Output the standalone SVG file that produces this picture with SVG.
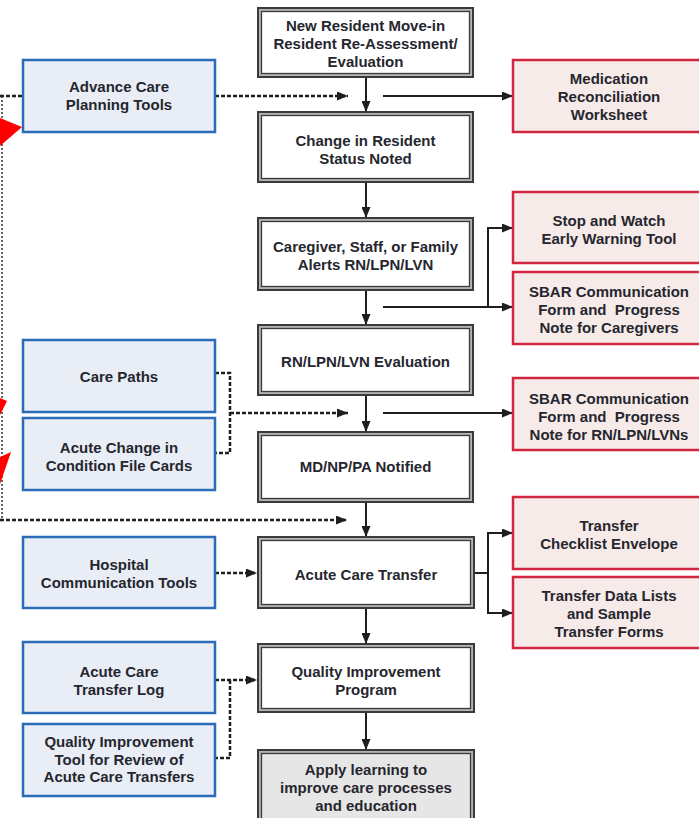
<svg xmlns="http://www.w3.org/2000/svg" width="699" height="818" viewBox="0 0 699 818">
  <style>
    .lbl { font-family: "Liberation Sans", Arial, sans-serif; font-weight: bold; font-size: 15px; fill: #26262f; text-anchor: middle; }
    .outer { fill: #b4b4b4; stroke: #3a3a3a; stroke-width: 2; }
    .inner { fill: #ffffff; stroke: #3a3a3a; stroke-width: 1.3; }
    .inner-gray { fill: #e6e6e6; stroke: #3a3a3a; stroke-width: 1.3; }
    .tool { fill: #e9eef6; stroke: #2b6cb8; stroke-width: 2.5; }
    .form { fill: #f6ebe8; stroke: #d02640; stroke-width: 2.5; }
    .solid { fill: none; stroke: #1e1e1e; stroke-width: 2; }
    .dotted { fill: none; stroke: #1e1e1e; stroke-width: 2.5; stroke-dasharray: 4 2; }
    .fine { fill: none; stroke: #333; stroke-width: 1.5; stroke-dasharray: 2 2; }
    .mark { fill: #ff0000; }
  </style>
  <defs>
    <marker id="arrow" markerUnits="userSpaceOnUse" markerWidth="11" markerHeight="9" refX="11" refY="4.5" orient="auto">
      <path d="M0,0 L11,4.5 L0,9 Z" fill="#1e1e1e"/>
    </marker>
  </defs>

  <rect width="699" height="818" fill="#ffffff"/>

  <!-- connectors -->
  <g id="connectors">
    <!-- main vertical flow -->
    <line class="solid" x1="366" y1="77" x2="366" y2="112" marker-end="url(#arrow)"/>
    <line class="solid" x1="366" y1="182" x2="366" y2="218" marker-end="url(#arrow)"/>
    <line class="solid" x1="366" y1="290" x2="366" y2="325" marker-end="url(#arrow)"/>
    <line class="solid" x1="366" y1="395" x2="366" y2="432" marker-end="url(#arrow)"/>
    <line class="solid" x1="366" y1="502" x2="366" y2="537" marker-end="url(#arrow)"/>
    <line class="solid" x1="366" y1="608" x2="366" y2="644" marker-end="url(#arrow)"/>
    <line class="solid" x1="366" y1="712" x2="366" y2="750" marker-end="url(#arrow)"/>

    <!-- to forms on the right -->
    <line class="solid" x1="383" y1="96" x2="513" y2="96" marker-end="url(#arrow)"/>
    <line class="solid" x1="383" y1="307" x2="513" y2="307" marker-end="url(#arrow)"/>
    <polyline class="solid" points="488,307 488,228 513,228" marker-end="url(#arrow)"/>
    <line class="solid" x1="383" y1="413" x2="513" y2="413" marker-end="url(#arrow)"/>
    <line class="solid" x1="474" y1="573" x2="488" y2="573"/>
    <polyline class="solid" points="488,573 488,533 513,533" marker-end="url(#arrow)"/>
    <polyline class="solid" points="488,573 488,613 513,613" marker-end="url(#arrow)"/>

    <!-- from tools on the left -->
    <line class="dotted" x1="0" y1="96" x2="23" y2="96"/>
    <line class="fine" x1="2" y1="96" x2="2" y2="520"/>
    <line class="dotted" x1="215" y1="96" x2="348" y2="96" marker-end="url(#arrow)"/>
    <polyline class="dotted" points="215,373 230,373 230,453 215,453"/>
    <line class="dotted" x1="230" y1="413" x2="348" y2="413" marker-end="url(#arrow)"/>
    <line class="dotted" x1="0" y1="520" x2="347" y2="520" marker-end="url(#arrow)"/>
    <line class="dotted" x1="215" y1="573" x2="257" y2="573" marker-end="url(#arrow)"/>
    <line class="dotted" x1="215" y1="680" x2="257" y2="680" marker-end="url(#arrow)"/>
    <polyline class="dotted" points="230,680 230,758 215,758"/>
  </g>

  <!-- main process steps -->
  <g id="step-move-in">
    <rect class="outer" x="258" y="8" width="215" height="69"/>
    <rect class="inner" x="261.5" y="11.5" width="208" height="62"/>
    <text class="lbl" x="365.5" y="31">New Resident Move-in</text>
    <text class="lbl" x="365.5" y="49">Resident Re-Assessment/</text>
    <text class="lbl" x="365.5" y="67">Evaluation</text>
  </g>
  <g id="step-change">
    <rect class="outer" x="258" y="112" width="215" height="70"/>
    <rect class="inner" x="261.5" y="115.5" width="208" height="63"/>
    <text class="lbl" x="365.5" y="146">Change in Resident</text>
    <text class="lbl" x="365.5" y="164">Status Noted</text>
  </g>
  <g id="step-alerts">
    <rect class="outer" x="258" y="218" width="215" height="72"/>
    <rect class="inner" x="261.5" y="221.5" width="208" height="65"/>
    <text class="lbl" x="365.5" y="252">Caregiver, Staff, or Family</text>
    <text class="lbl" x="365.5" y="270">Alerts RN/LPN/LVN</text>
  </g>
  <g id="step-evaluation">
    <rect class="outer" x="258" y="325" width="215" height="70"/>
    <rect class="inner" x="261.5" y="328.5" width="208" height="63"/>
    <text class="lbl" x="365.5" y="367">RN/LPN/LVN Evaluation</text>
  </g>
  <g id="step-notified">
    <rect class="outer" x="258" y="432" width="215" height="70"/>
    <rect class="inner" x="261.5" y="435.5" width="208" height="63"/>
    <text class="lbl" x="365.5" y="472">MD/NP/PA Notified</text>
  </g>
  <g id="step-transfer">
    <rect class="outer" x="258" y="537" width="216" height="71"/>
    <rect class="inner" x="261.5" y="540.5" width="209" height="64"/>
    <text class="lbl" x="366" y="580">Acute Care Transfer</text>
  </g>
  <g id="step-qi-program">
    <rect class="outer" x="258" y="644" width="216" height="68"/>
    <rect class="inner" x="261.5" y="647.5" width="209" height="61"/>
    <text class="lbl" x="366" y="677">Quality Improvement</text>
    <text class="lbl" x="366" y="695">Program</text>
  </g>
  <g id="step-apply">
    <rect class="outer" x="258" y="750" width="216" height="80"/>
    <rect class="inner-gray" x="261.5" y="753.5" width="209" height="73"/>
    <text class="lbl" x="366" y="775">Apply learning to</text>
    <text class="lbl" x="366" y="793">improve care processes</text>
    <text class="lbl" x="366" y="811">and education</text>
  </g>

  <!-- tools (left) -->
  <g id="tool-advance-care">
    <rect class="tool" x="23" y="60" width="192" height="72"/>
    <text class="lbl" x="119" y="92">Advance Care</text>
    <text class="lbl" x="119" y="110">Planning Tools</text>
  </g>
  <g id="tool-care-paths">
    <rect class="tool" x="23" y="340" width="192" height="72"/>
    <text class="lbl" x="119" y="382">Care Paths</text>
  </g>
  <g id="tool-file-cards">
    <rect class="tool" x="23" y="418" width="192" height="72"/>
    <text class="lbl" x="119" y="453">Acute Change in</text>
    <text class="lbl" x="119" y="471">Condition File Cards</text>
  </g>
  <g id="tool-hospital-comm">
    <rect class="tool" x="23" y="537" width="192" height="71"/>
    <text class="lbl" x="119" y="570">Hospital</text>
    <text class="lbl" x="119" y="588">Communication Tools</text>
  </g>
  <g id="tool-transfer-log">
    <rect class="tool" x="23" y="642" width="192" height="71"/>
    <text class="lbl" x="119" y="677">Acute Care</text>
    <text class="lbl" x="119" y="695">Transfer Log</text>
  </g>
  <g id="tool-qi-review">
    <rect class="tool" x="23" y="724" width="192" height="72"/>
    <text class="lbl" x="119" y="747">Quality Improvement</text>
    <text class="lbl" x="119" y="764.5">Tool for Review of</text>
    <text class="lbl" x="119" y="782">Acute Care Transfers</text>
  </g>

  <!-- forms (right) -->
  <g id="form-medication">
    <rect class="form" x="513" y="60" width="194" height="72"/>
    <text class="lbl" x="609" y="84">Medication</text>
    <text class="lbl" x="609" y="102">Reconciliation</text>
    <text class="lbl" x="609" y="120">Worksheet</text>
  </g>
  <g id="form-stop-watch">
    <rect class="form" x="513" y="192" width="194" height="71"/>
    <text class="lbl" x="609" y="226">Stop and Watch</text>
    <text class="lbl" x="609" y="244">Early Warning Tool</text>
  </g>
  <g id="form-sbar-caregivers">
    <rect class="form" x="513" y="272" width="194" height="72"/>
    <text class="lbl" x="609" y="297">SBAR Communication</text>
    <text class="lbl" x="609" y="315">Form and&#160; Progress</text>
    <text class="lbl" x="609" y="333">Note for Caregivers</text>
  </g>
  <g id="form-sbar-nurses">
    <rect class="form" x="513" y="378" width="194" height="72"/>
    <text class="lbl" x="609" y="404">SBAR Communication</text>
    <text class="lbl" x="609" y="422">Form and&#160; Progress</text>
    <text class="lbl" x="609" y="440">Note for RN/LPN/LVNs</text>
  </g>
  <g id="form-checklist">
    <rect class="form" x="513" y="497" width="194" height="72"/>
    <text class="lbl" x="609" y="531">Transfer</text>
    <text class="lbl" x="609" y="549">Checklist Envelope</text>
  </g>
  <g id="form-data-lists">
    <rect class="form" x="513" y="577" width="194" height="71"/>
    <text class="lbl" x="609" y="601">Transfer Data Lists</text>
    <text class="lbl" x="609" y="619">and Sample</text>
    <text class="lbl" x="609" y="637">Transfer Forms</text>
  </g>

  <!-- red pointer heads along the left edge -->
  <polygon class="mark" points="0,118 22,127 0,146"/>
  <polygon class="mark" points="0,398 7,401 0,415"/>
  <polygon class="mark" points="0,457 11,452 0,484"/>
</svg>
